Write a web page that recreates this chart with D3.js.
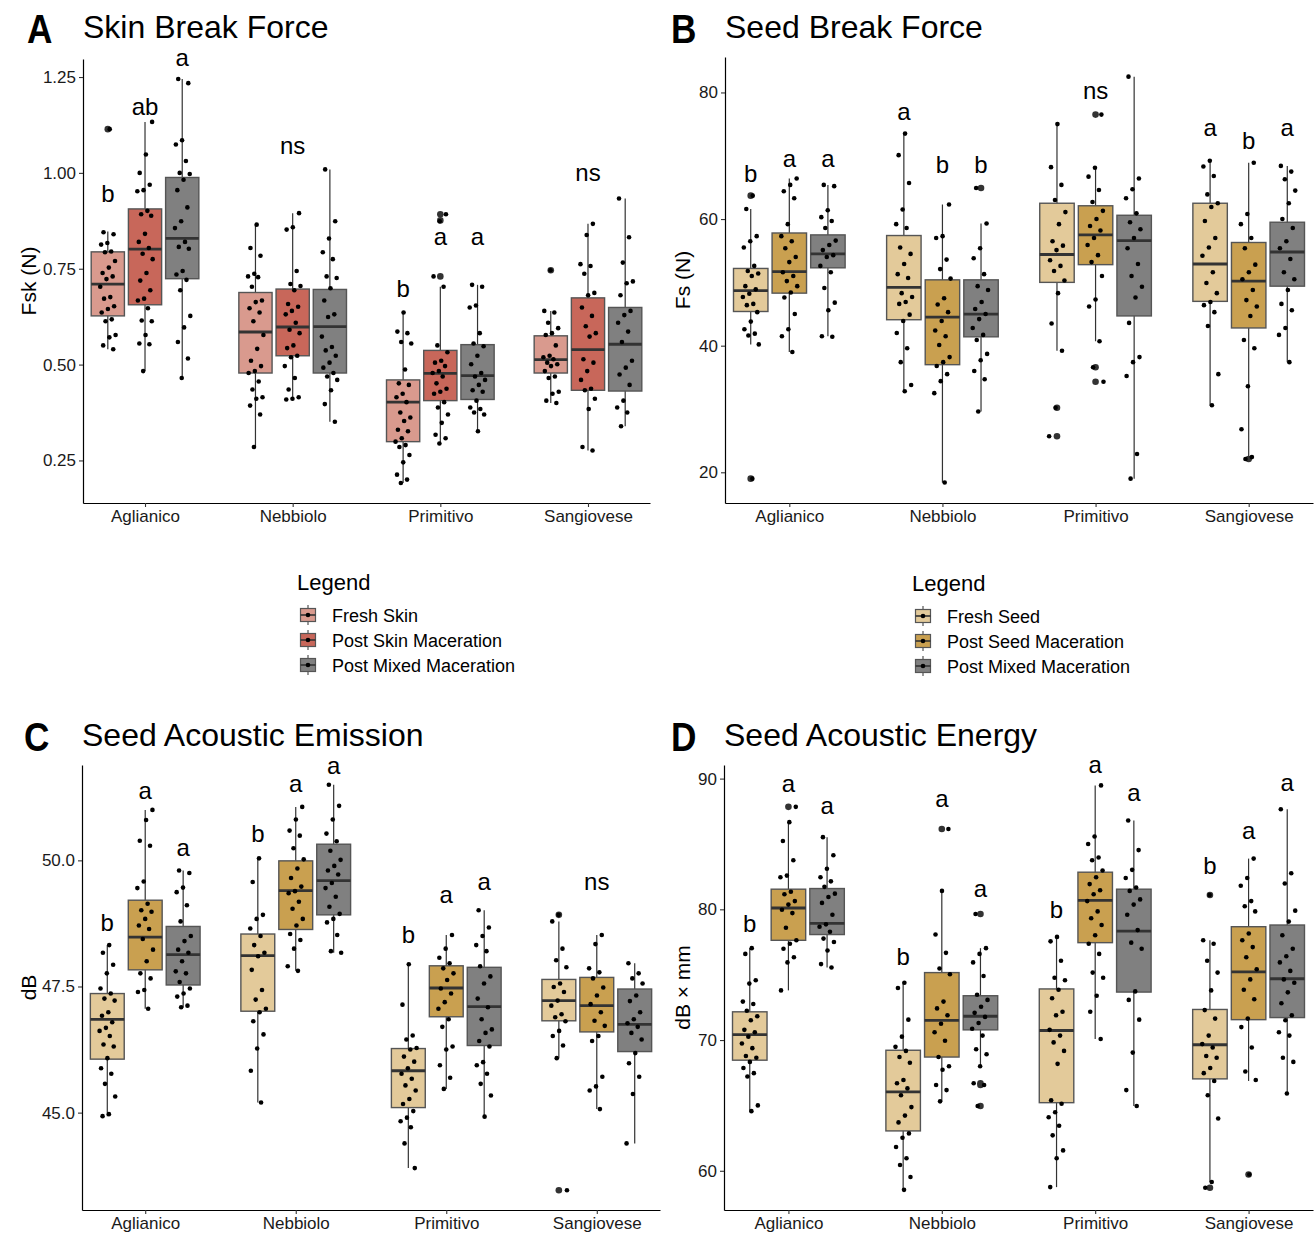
<!DOCTYPE html>
<html>
<head>
<meta charset="utf-8">
<script src="https://cdn.jsdelivr.net/npm/d3@7"></script>
<style>
  body { margin: 0; background: #fff; }
  svg { font-family: "Liberation Sans", Arial, sans-serif; }
</style>
</head>
<body>
<div id="chart"></div>
<script>
const cultivars = ["Aglianico", "Nebbiolo", "Primitivo", "Sangiovese"];
const skinTreatments = ["Fresh Skin", "Post Skin Maceration", "Post Mixed Maceration"];
const seedTreatments = ["Fresh Seed", "Post Seed Maceration", "Post Mixed Maceration"];
const skinColors = ["#D99A8E", "#C8675A", "#808080"];
const seedColors = ["#E3CA9A", "#C9A050", "#808080"];

// box rows: [lower whisker, q1, median, q3, upper whisker]; order = cultivar x treatment
const skinForceTicks = [0.25, 0.5, 0.75, 1.0, 1.25];
const skinForceStats = [
  [0.540, 0.627, 0.710, 0.794, 0.847], [0.483, 0.656, 0.801, 0.906, 1.133], [0.465, 0.724, 0.829, 0.988, 1.245],
  [0.285, 0.478, 0.585, 0.688, 0.865], [0.409, 0.523, 0.598, 0.697, 0.895], [0.351, 0.478, 0.599, 0.696, 1.009],
  [0.191, 0.299, 0.402, 0.460, 0.636], [0.294, 0.406, 0.477, 0.537, 0.703], [0.326, 0.409, 0.471, 0.552, 0.708],
  [0.400, 0.478, 0.513, 0.575, 0.640], [0.276, 0.433, 0.539, 0.674, 0.867], [0.339, 0.431, 0.553, 0.649, 0.933]
];
const skinForceOutliers = [[1.114], [], [], [], [], [], [], [0.730, 0.876, 0.892], [], [0.746], [], []];
const skinForcePoints = [
  [1.114,0.845,0.840,0.817,0.813,0.795,0.793,0.770,0.753,0.739,0.730,0.723,0.703,0.676,0.672,0.652,0.645,0.636,0.618,0.613,0.577,0.571,0.550,0.540],
  [1.133,1.048,1.000,0.969,0.955,0.952,0.901,0.892,0.888,0.841,0.820,0.804,0.789,0.775,0.739,0.719,0.694,0.672,0.667,0.647,0.615,0.613,0.577,0.555,0.553,0.483],
  [1.245,1.234,1.085,1.074,1.031,1.000,0.997,0.982,0.955,0.910,0.874,0.856,0.820,0.807,0.802,0.744,0.735,0.721,0.694,0.627,0.597,0.559,0.516,0.465],
  [0.865,0.804,0.784,0.737,0.730,0.728,0.703,0.667,0.663,0.647,0.636,0.613,0.577,0.541,0.510,0.496,0.483,0.478,0.456,0.435,0.415,0.411,0.393,0.370,0.285],
  [0.895,0.858,0.852,0.744,0.710,0.705,0.694,0.658,0.651,0.640,0.631,0.609,0.591,0.582,0.550,0.543,0.523,0.519,0.496,0.465,0.435,0.415,0.411,0.409],
  [1.009,0.874,0.829,0.793,0.775,0.730,0.726,0.699,0.667,0.631,0.624,0.573,0.546,0.537,0.523,0.505,0.492,0.478,0.469,0.460,0.433,0.397,0.351],
  [0.636,0.586,0.582,0.559,0.555,0.487,0.451,0.447,0.424,0.415,0.402,0.375,0.362,0.353,0.330,0.326,0.308,0.299,0.290,0.285,0.264,0.245,0.213,0.200,0.191],
  [0.892,0.874,0.730,0.703,0.550,0.532,0.510,0.505,0.496,0.483,0.478,0.469,0.451,0.437,0.429,0.424,0.402,0.388,0.370,0.348,0.317,0.308,0.294],
  [0.708,0.703,0.654,0.649,0.582,0.555,0.548,0.523,0.501,0.478,0.469,0.460,0.447,0.433,0.429,0.406,0.388,0.384,0.375,0.370,0.326],
  [0.746,0.640,0.636,0.609,0.595,0.582,0.577,0.550,0.523,0.519,0.514,0.505,0.501,0.496,0.483,0.469,0.465,0.429,0.424,0.406,0.400],
  [0.867,0.838,0.762,0.757,0.737,0.687,0.681,0.649,0.627,0.600,0.582,0.573,0.514,0.505,0.483,0.460,0.437,0.433,0.411,0.384,0.285,0.276],
  [0.933,0.832,0.766,0.717,0.712,0.681,0.640,0.629,0.609,0.586,0.559,0.510,0.492,0.474,0.447,0.406,0.388,0.375,0.339]
];
const skinForceLetters = [
  ["b", 0.948], ["ab", 1.173], ["a", 1.295], ["", 0], ["ns", 1.065], ["", 0],
  ["b", 0.700], ["a", 0.829], ["a", 0.829], ["", 0], ["ns", 0.995], ["", 0]
];

const seedForceTicks = [20, 40, 60, 80];
const seedForceStats = [
  [40.2, 45.4, 48.7, 52.2, 61.6], [39.0, 48.3, 51.7, 57.8, 66.4], [41.5, 52.3, 54.5, 57.5, 65.4],
  [32.8, 44.1, 49.2, 57.4, 73.5], [18.4, 37.0, 44.5, 50.4, 62.3], [29.6, 41.4, 45.0, 50.4, 59.3],
  [39.2, 50.0, 54.4, 62.5, 75.0], [40.7, 52.8, 57.5, 62.1, 68.1], [19.0, 44.7, 56.6, 60.6, 82.5],
  [30.6, 47.0, 52.9, 62.5, 69.2], [22.4, 42.8, 50.2, 56.3, 68.9], [37.4, 49.4, 54.8, 59.5, 68.4]
];
const seedForceOutliers = [[63.7, 19.0], [], [], [], [], [64.9], [30.2, 25.7], [76.5, 36.6, 34.3], [], [], [22.1], []];
const seedForcePoints = [
  [63.7,61.6,57.3,56.5,55.5,52.6,51.8,51.4,51.0,49.4,48.9,48.2,47.7,46.6,46.4,45.3,43.8,42.6,41.9,41.6,40.2,19.0],
  [66.4,65.4,64.4,63.3,59.2,57.3,56.5,55.4,54.0,53.2,51.6,51.0,50.2,49.4,48.4,47.6,45.0,42.6,41.5,39.0],
  [65.4,65.2,61.4,60.3,59.7,58.6,56.6,55.9,55.1,54.3,54.0,52.6,51.6,49.1,46.8,45.6,41.5,41.4],
  [73.5,70.1,65.7,61.5,59.2,58.6,55.5,54.5,52.9,51.3,50.7,48.3,47.7,46.9,46.6,44.9,43.9,42.0,39.6,37.4,33.8,32.8],
  [62.3,57.3,57.0,53.6,52.1,50.6,47.5,46.5,45.3,43.9,42.4,41.5,40.1,38.2,37.4,36.8,35.5,34.4,32.5,18.4],
  [64.9,59.3,55.4,53.8,51.3,49.4,48.8,46.9,45.8,45.0,44.2,42.8,41.7,40.9,38.7,37.7,36.0,34.7,29.6],
  [75.0,68.2,65.4,63.0,61.1,59.2,56.5,55.8,55.1,53.5,52.6,51.8,50.3,48.3,43.5,39.2,30.2,25.7],
  [76.5,68.1,66.7,64.6,62.7,61.3,60.0,58.9,58.2,57.0,55.9,54.3,53.2,51.0,47.3,46.2,40.7,36.6,34.3],
  [82.5,66.4,64.7,63.3,60.9,59.5,58.4,57.0,55.4,52.9,51.0,49.3,47.6,43.6,38.2,37.4,35.2,22.9,19.0],
  [69.2,68.3,66.8,63.9,62.5,61.9,59.7,57.0,55.5,54.2,51.6,49.9,48.3,46.9,46.4,45.3,43.1,35.5,30.6],
  [68.9,60.8,59.2,57.0,55.4,52.8,51.6,50.5,48.8,47.2,46.2,44.7,40.9,39.6,33.6,26.8,22.4,22.1],
  [68.4,67.5,66.3,64.5,62.5,60.0,58.6,56.5,55.4,53.7,51.6,50.5,48.8,46.6,45.6,42.8,41.7,37.4]
];
const seedForceLetters = [
  ["b", 67.2], ["a", 69.3], ["a", 69.3], ["a", 76.6], ["b", 68.6], ["b", 68.6],
  ["", 0], ["ns", 80.0], ["", 0], ["a", 74.2], ["b", 72.5], ["a", 74.2]
];

const emissionTicks = [45.0, 47.5, 50.0];
const emissionStats = [
  [44.93, 46.06, 46.85, 47.36, 48.32], [47.06, 47.83, 48.48, 49.21, 51.00], [47.09, 47.53, 48.13, 48.69, 49.80],
  [45.20, 47.01, 48.11, 48.54, 50.04], [47.81, 48.63, 49.40, 49.99, 51.06], [48.17, 48.92, 49.60, 50.32, 51.50],
  [43.90, 45.10, 45.83, 46.27, 47.94], [45.47, 46.90, 47.47, 47.91, 48.52], [44.92, 46.33, 47.10, 47.88, 49.01],
  [46.08, 46.82, 47.22, 47.64, 48.79], [45.07, 46.60, 47.12, 47.68, 48.52], [44.39, 46.21, 46.75, 47.45, 47.96]
];
const emissionOutliers = [[], [], [], [], [], [], [], [], [], [48.92, 43.46], [], []];
const emissionPoints = [
  [48.32,48.17,47.93,47.76,47.46,47.36,47.26,47.22,46.99,46.92,46.79,46.68,46.62,46.52,46.35,46.31,46.08,45.88,45.77,45.57,45.32,44.97,44.93],
  [51.00,50.80,50.39,50.29,49.58,49.45,49.14,49.01,48.98,48.84,48.71,48.64,48.44,48.23,48.00,47.76,47.66,47.43,47.39,47.06],
  [49.80,49.75,49.46,49.37,49.11,48.79,48.50,48.40,48.23,48.17,48.00,47.80,47.76,47.59,47.46,47.36,47.30,47.12,47.09],
  [50.04,49.57,48.92,48.84,48.65,48.50,48.32,48.17,48.10,47.83,47.43,47.24,47.06,46.99,46.81,46.55,46.27,45.83,45.20],
  [51.06,50.81,50.59,50.49,50.24,50.02,49.84,49.65,49.48,49.39,49.35,49.18,49.04,48.84,48.71,48.54,48.42,48.25,47.90,47.81],
  [51.50,51.08,50.81,50.53,50.38,50.19,50.01,49.89,49.80,49.72,49.55,49.45,49.28,49.08,48.94,48.84,48.77,48.52,48.20,48.17],
  [47.94,47.14,46.53,46.45,46.28,46.25,46.11,46.01,45.88,45.77,45.67,45.54,45.44,45.27,45.17,45.03,44.90,44.83,44.71,44.39,43.90],
  [48.52,48.25,48.07,47.96,47.86,47.76,47.63,47.46,47.36,47.19,47.06,46.85,46.70,46.31,46.25,45.94,45.69,45.47],
  [49.01,48.67,48.50,48.32,48.20,47.90,47.70,47.56,47.26,47.09,46.85,46.65,46.58,46.42,46.31,46.00,45.94,45.77,45.57,45.34,44.92],
  [48.92,48.79,48.25,48.02,47.88,47.56,47.49,47.39,47.22,47.12,46.95,46.89,46.81,46.62,46.52,46.33,46.08,43.46],
  [48.52,48.34,47.86,47.78,47.66,47.48,47.32,47.15,46.99,46.82,46.72,46.52,46.42,45.71,45.52,45.44,45.07],
  [47.96,47.76,47.66,47.56,47.32,47.21,46.99,46.85,46.77,46.70,46.58,46.45,46.18,45.98,45.71,45.37,44.39]
];
const emissionLetters = [
  ["b", 48.77], ["a", 51.35], ["a", 50.21], ["b", 50.53], ["a", 51.48], ["a", 51.84],
  ["b", 48.54], ["a", 49.28], ["a", 49.53], ["", 0], ["ns", 49.54], ["", 0]
];

const energyTicks = [60, 70, 80, 90];
const energyStats = [
  [64.56, 68.46, 70.42, 72.16, 77.03], [73.80, 77.63, 80.10, 81.54, 86.67], [75.55, 78.07, 78.93, 81.59, 85.52],
  [58.54, 63.05, 66.04, 69.22, 74.38], [65.31, 68.70, 71.51, 75.16, 81.41], [68.00, 70.78, 71.82, 73.39, 77.03],
  [58.75, 65.21, 70.73, 73.91, 77.89], [70.08, 77.45, 80.68, 82.84, 89.48], [64.95, 73.67, 78.33, 81.54, 86.80],
  [59.14, 67.03, 69.64, 72.34, 77.63], [66.87, 71.56, 75.21, 78.67, 83.88], [65.91, 71.72, 74.69, 78.80, 87.66]
];
const energyOutliers = [[], [87.84], [], [], [86.15], [79.64, 66.69, 66.56, 64.95], [], [], [], [81.09, 58.70], [59.71], []];
const energyPoints = [
  [77.03,76.59,74.58,74.32,72.94,72.76,72.24,71.82,71.51,70.78,70.60,70.26,69.74,69.38,68.78,68.65,68.33,67.86,67.47,67.21,65.00,64.56],
  [87.84,86.67,85.23,83.75,82.58,82.45,81.35,81.15,80.63,80.36,79.97,79.71,78.59,77.63,77.37,76.98,76.33,75.94,73.80],
  [85.52,84.14,83.10,82.45,82.14,81.72,81.20,80.94,80.49,79.58,78.85,78.67,78.28,77.76,77.50,76.85,75.81,75.55],
  [74.38,73.98,71.56,70.26,69.48,69.17,68.70,68.26,66.95,66.69,66.30,65.78,64.87,64.22,63.70,62.86,62.53,61.82,60.96,60.44,59.53,58.54],
  [86.15,81.41,78.07,76.67,75.47,75.03,72.94,72.42,71.90,71.25,70.60,69.95,68.70,68.00,67.73,66.56,66.17,65.31],
  [79.64,77.03,76.59,75.94,74.90,73.46,73.07,72.55,72.08,71.77,71.30,70.86,70.34,69.30,68.91,68.00,66.69,66.56,64.95],
  [77.89,77.55,76.07,74.77,74.58,73.85,73.20,72.16,71.90,70.78,70.34,69.82,69.17,68.18,65.39,65.13,64.48,64.09,63.44,62.71,61.56,60.96,58.75],
  [89.48,85.57,85.00,83.96,83.75,82.97,82.45,81.93,81.46,81.15,80.63,79.84,79.32,78.80,78.02,77.37,76.59,75.16,74.77,73.39,72.16,70.08],
  [86.80,84.53,83.02,82.40,81.67,81.41,80.76,80.36,79.58,78.41,77.45,76.98,73.72,73.07,71.56,69.04,66.17,64.95],
  [81.09,77.63,77.37,76.07,75.16,73.80,72.29,71.64,70.34,69.69,69.43,68.78,68.65,67.86,67.47,66.87,65.78,64.00,59.14,58.70],
  [83.88,82.40,81.80,80.63,80.23,79.84,78.15,77.63,77.11,76.33,75.42,74.64,73.85,73.12,71.64,70.99,69.43,67.60,66.95,59.71],
  [87.66,82.76,81.98,79.90,79.06,78.02,76.98,76.41,75.94,75.29,74.64,74.38,73.65,72.81,71.90,71.51,70.60,70.34,68.65,68.33,65.91]
];
const energyLetters = [
  ["b", 78.93], ["a", 89.43], ["a", 87.79], ["b", 76.41], ["a", 88.31], ["a", 81.41],
  ["b", 79.97], ["a", 90.91], ["a", 88.78], ["b", 83.36], ["a", 85.83], ["a", 89.53]
];

const svg = d3.select("#chart").append("svg")
  .attr("width", 1315)
  .attr("height", 1233);

function drawPanel(p) {
  const x = d3.scalePoint().domain(cultivars).range([p.left, p.right]).padding(0.42);
  const y = d3.scaleLinear().domain(p.domain).range([p.bottom, p.top]);
  const step = x.step();
  const dodge = 0.252 * step;
  const bw = 0.225 * step;
  const jw = 0.055 * step;
  const g = svg.append("g");

  // panel tag + title
  g.append("text")
    .attr("transform", `translate(${p.tagX},${p.titleY + 5}) scale(0.88,1.02)`)
    .attr("font-size", 40).attr("font-weight", "bold")
    .text(p.tag);
  g.append("text")
    .attr("x", p.left).attr("y", p.titleY)
    .attr("font-size", 32)
    .text(p.title);

  // boxes
  p.stats.forEach((s, i) => {
    const c = cultivars[Math.floor(i / 3)];
    const t = i % 3;
    const cx = x(c) + (t - 1) * dodge;
    g.append("line")
      .attr("x1", cx).attr("x2", cx)
      .attr("y1", y(s[0])).attr("y2", y(s[4]))
      .attr("stroke", "#333").attr("stroke-width", 1.2);
    g.append("rect")
      .attr("x", cx - bw / 2).attr("width", bw)
      .attr("y", y(s[3])).attr("height", y(s[1]) - y(s[3]))
      .attr("fill", p.colors[t])
      .attr("stroke", "#555").attr("stroke-width", 1.4);
    g.append("line")
      .attr("x1", cx - bw / 2).attr("x2", cx + bw / 2)
      .attr("y1", y(s[2])).attr("y2", y(s[2]))
      .attr("stroke", "#333").attr("stroke-width", 2.8);
    g.selectAll(null).data(p.outliers[i]).enter().append("circle")
      .attr("cx", cx).attr("cy", d => y(d))
      .attr("r", 3.3).attr("fill", "#333");
  });

  // jittered points
  p.points.forEach((pts, i) => {
    const c = cultivars[Math.floor(i / 3)];
    const t = i % 3;
    const cx = x(c) + (t - 1) * dodge;
    g.selectAll(null).data(pts).enter().append("circle")
      .attr("cx", (d, k) => cx + ((((k + 1) * 0.618034 + i * 0.3183) % 1) - 0.5) * 2 * jw)
      .attr("cy", d => y(d))
      .attr("r", 2.3).attr("fill", "#000");
  });

  // significance letters
  p.letters.forEach((l, i) => {
    if (!l[0]) return;
    const c = cultivars[Math.floor(i / 3)];
    const t = i % 3;
    const cx = x(c) + (t - 1) * dodge;
    const fs = 24;
    const off = /[bdfhklt]/.test(l[0]) ? 0.365 : 0.265;
    g.append("text")
      .attr("x", cx).attr("y", y(l[1]) + off * fs)
      .attr("text-anchor", "middle")
      .attr("font-size", fs)
      .text(l[0]);
  });

  // axes
  const ya = g.append("g")
    .attr("transform", `translate(${p.left},0)`)
    .call(d3.axisLeft(y).tickValues(p.ticks).tickFormat(d3.format(p.fmt)).tickSize(4).tickSizeOuter(0).tickPadding(3));
  const xa = g.append("g")
    .attr("transform", `translate(0,${p.bottom})`)
    .call(d3.axisBottom(x).tickSize(4).tickSizeOuter(0).tickPadding(3));
  [ya, xa].forEach(a => {
    a.select(".domain").attr("stroke", "#000").attr("stroke-width", 1.2);
    a.selectAll(".tick line").attr("stroke", "#333").attr("stroke-width", 1.1);
    a.selectAll(".tick text").attr("font-size", 17).attr("fill", "#1a1a1a")
      .attr("font-family", "Liberation Sans, Arial, sans-serif");
  });

  g.append("text")
    .attr("transform", `translate(${p.ylabX},${(p.top + p.bottom) / 2}) rotate(-90)`)
    .attr("text-anchor", "middle")
    .attr("font-size", 21)
    .text(p.ylab);
}

function drawLegend(lx, ly, labels, colors) {
  const g = svg.append("g");
  g.append("text").attr("x", lx).attr("y", ly).attr("font-size", 22).text("Legend");
  labels.forEach((lab, i) => {
    const cy = ly + 25 + i * 25;
    const kx = lx + 11;
    g.append("line").attr("x1", kx).attr("x2", kx).attr("y1", cy - 10).attr("y2", cy + 10)
      .attr("stroke", "#333").attr("stroke-width", 1);
    g.append("rect").attr("x", kx - 7.5).attr("y", cy - 6.5).attr("width", 15).attr("height", 13)
      .attr("fill", colors[i]).attr("stroke", "#555").attr("stroke-width", 1.2);
    g.append("line").attr("x1", kx - 7.5).attr("x2", kx + 7.5).attr("y1", cy).attr("y2", cy)
      .attr("stroke", "#333").attr("stroke-width", 1.6);
    g.append("circle").attr("cx", kx).attr("cy", cy).attr("r", 2.3).attr("fill", "#000");
    g.append("text").attr("x", lx + 35).attr("y", cy + 6.5).attr("font-size", 18).text(lab);
  });
}

drawPanel({ tag: "A", tagX: 27, title: "Skin Break Force", titleY: 38,
  left: 83, right: 650, top: 59, bottom: 503, domain: [0.139, 1.297],
  ticks: skinForceTicks, fmt: ".2f", ylab: "Fsk (N)", ylabX: 36,
  stats: skinForceStats, outliers: skinForceOutliers, points: skinForcePoints,
  letters: skinForceLetters, colors: skinColors });

drawPanel({ tag: "B", tagX: 671, title: "Seed Break Force", titleY: 38,
  left: 725, right: 1313, top: 57, bottom: 503, domain: [15.15, 85.6],
  ticks: seedForceTicks, fmt: "d", ylab: "Fs (N)", ylabX: 690,
  stats: seedForceStats, outliers: seedForceOutliers, points: seedForcePoints,
  letters: seedForceLetters, colors: seedColors });

drawPanel({ tag: "C", tagX: 24, title: "Seed Acoustic Emission", titleY: 746,
  left: 82, right: 660, top: 765, bottom: 1210, domain: [43.07, 51.89],
  ticks: emissionTicks, fmt: ".1f", ylab: "dB", ylabX: 36,
  stats: emissionStats, outliers: emissionOutliers, points: emissionPoints,
  letters: emissionLetters, colors: seedColors });

drawPanel({ tag: "D", tagX: 671, title: "Seed Acoustic Energy", titleY: 746,
  left: 724, right: 1313, top: 765, bottom: 1210, domain: [57.0, 91.04],
  ticks: energyTicks, fmt: "d", ylab: "dB × mm", ylabX: 690,
  stats: energyStats, outliers: energyOutliers, points: energyPoints,
  letters: energyLetters, colors: seedColors });

drawLegend(297, 590, skinTreatments, skinColors);
drawLegend(912, 591, seedTreatments, seedColors);
</script>
</body>
</html>
